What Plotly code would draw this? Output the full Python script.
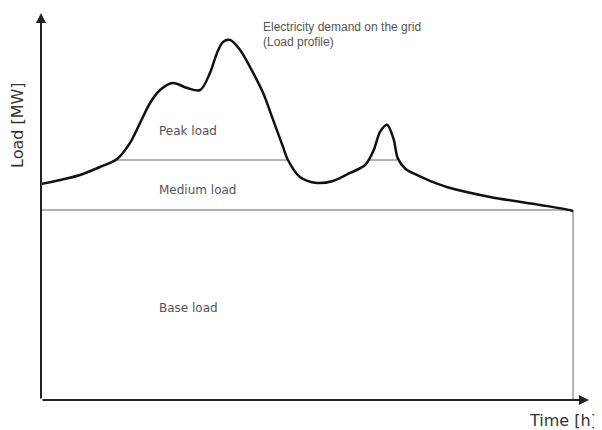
import plotly.graph_objects as go

# Load profile (time in hours, load in MW - arbitrary units)
time_h = [0, 0.86, 1.76, 2.66, 3.43, 4.01, 4.47, 4.92, 5.37, 5.95, 6.59, 7.18, 7.62,
          7.94, 8.21, 8.53, 8.98, 9.43, 10.02, 10.47, 10.92, 11.14, 11.68, 12.45,
          13.17, 13.94, 14.62, 15.0, 15.3, 15.61, 15.9, 16.1, 16.45, 16.95,
          17.6, 18.3, 20.26, 22.51, 23.86, 24.0]
load_mw = [108.3, 110.3, 112.8, 116.8, 120.8, 128.8, 138.9, 148.9, 155.4, 158.9, 156.4,
           155.4, 163.9, 174.0, 179.5, 180.5, 175.5, 166.9, 153.9, 140.4, 126.8, 120.3,
           111.8, 108.8, 109.8, 113.8, 117.8, 125.0, 134.5, 138.0, 131.0, 121.0,
           115.8, 112.8, 109.6, 106.8, 101.8, 97.8, 95.2, 94.7]

base_level = 95.2
medium_level = 120.3
medium_segments = [(3.43, 11.14), (14.80, 16.08)]
t_end = 24.0
x_max = 24.72
y_max = 194

labels = ["Peak load", "Medium load", "Base load"]
label_y = [135, 105.5, 46]
label_x = 5.23

fig = go.Figure()

grey = "#9a9a9a"
fig.add_trace(go.Scatter(x=[0, t_end], y=[base_level, base_level], mode="lines",
                         line=dict(color=grey, width=1.5), hoverinfo="skip"))
fig.add_trace(go.Scatter(x=[t_end, t_end], y=[0, base_level], mode="lines",
                         line=dict(color=grey, width=1.5), hoverinfo="skip"))
for a, b in medium_segments:
    fig.add_trace(go.Scatter(x=[a, b], y=[medium_level, medium_level], mode="lines",
                             line=dict(color=grey, width=1.5), hoverinfo="skip"))
fig.add_trace(go.Scatter(x=time_h, y=load_mw, mode="lines",
                         line=dict(color="#111111", width=2.5, shape="spline", smoothing=0.9),
                         hoverinfo="skip"))

ann = []
ann.append(dict(x=0, y=y_max, ax=0, ay=0, xref="x", yref="y", axref="x", ayref="y",
                showarrow=True, arrowhead=2, arrowsize=1, arrowwidth=2, arrowcolor="#222", text=""))
ann.append(dict(x=x_max, y=0, ax=0, ay=0, xref="x", yref="y", axref="x", ayref="y",
                showarrow=True, arrowhead=2, arrowsize=1, arrowwidth=2, arrowcolor="#222", text=""))
for t, yv in zip(labels, label_y):
    ann.append(dict(x=label_x, y=yv, xref="x", yref="y", text=t, showarrow=False,
                    xanchor="left", yanchor="middle",
                    font=dict(family="DejaVu Sans, Verdana", size=12, color="#555")))
ann.append(dict(x=9.92, y=187, xref="x", yref="y", text="Electricity demand on the grid",
                showarrow=False, xanchor="left", yanchor="middle",
                font=dict(family="Liberation Sans, Arial", size=12, color="#555")))
ann.append(dict(x=9.92, y=179.5, xref="x", yref="y", text="(Load profile)",
                showarrow=False, xanchor="left", yanchor="middle",
                font=dict(family="Liberation Sans, Arial", size=12, color="#555")))
ann.append(dict(x=-24 / 548, y=(400 - 125) / 387, xref="paper", yref="paper", text="Load [MW]",
                showarrow=False, textangle=-90, xanchor="center", yanchor="middle",
                font=dict(family="DejaVu Sans, Verdana", size=16, color="#333")))
ann.append(dict(x=(599 - 41) / 548, y=-20 / 387, xref="paper", yref="paper", text="Time [h]",
                showarrow=False, xanchor="right", yanchor="middle",
                font=dict(family="DejaVu Sans, Verdana", size=16, color="#333")))

# page body has an 8px margin, so the figure is shrunk and margins reduced accordingly
fig.update_layout(
    width=594, height=422,
    margin=dict(l=33, r=13, t=5, b=30),
    paper_bgcolor="white", plot_bgcolor="white",
    showlegend=False,
    xaxis=dict(range=[0, x_max], visible=False, fixedrange=True),
    yaxis=dict(range=[0, y_max], visible=False, fixedrange=True),
    annotations=ann,
)

fig.write_html("out.html")
